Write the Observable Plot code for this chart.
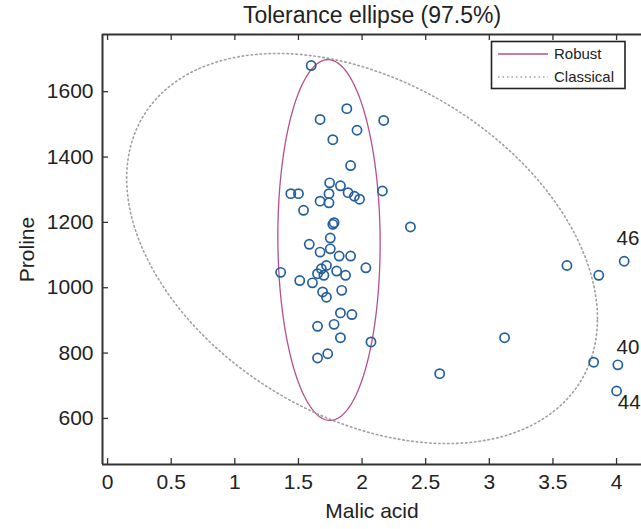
<!DOCTYPE html>
<html><head><meta charset="utf-8">
<script src="https://cdn.jsdelivr.net/npm/d3@7"></script>
<script src="https://cdn.jsdelivr.net/npm/@observablehq/plot@0.6"></script>
<style>
body{margin:0;background:#fff;overflow:hidden}
#chart svg{display:block}
</style>
</head><body><div id="chart"></div>
<script>
const malicAcid = [1.60,1.88,1.67,2.17,1.96,1.77,1.91,1.745,1.83,1.44,1.50,1.89,1.94,1.98,1.74,1.67,1.74,2.16,1.54,1.78,1.77,1.75,1.585,1.67,1.75,1.82,1.91,2.03,1.36,1.72,1.68,1.65,1.70,1.80,1.87,1.51,1.61,1.69,1.72,1.84,1.83,1.92,1.65,1.78,1.83,2.07,1.65,1.73,2.38,3.61,3.86,4.06,3.12,2.61,3.82,4.01,4.00];
const proline = [1680,1548,1515,1512,1482,1453,1374,1321,1312,1288,1288,1291,1280,1271,1288,1265,1260,1296,1237,1199,1194,1152,1133,1109,1119,1097,1097,1061,1047,1068,1058,1043,1038,1051,1038,1022,1015,987,971,992,923,918,882,888,847,834,785,798,1186,1068,1038,1081,847,737,772,764,684];

const xTicks = [0,0.5,1,1.5,2,2.5,3,3.5,4];
const yTicks = [600,800,1000,1200,1400,1600];

const ellipseNames = ["Robust","Classical"];
const ellipseCenterX = [1.74, 2.0];
const ellipseCenterY = [1146, 1120];
const ellipseHalfX = [0.402, 1.85];
const ellipseHalfY = [552, 597];
const ellipseCorr = [-0.02, -0.36];
const ellipseColors = ["#b5508f", "#a0a0a0"];
const ellipseDash = [null, "1.5,3"];

const outlierLabels = ["46","40","44"];
const labelX = [4.0, 4.0, 4.01];
const labelY = [1151, 816, 649];

const titleText = "Tolerance ellipse (97.5%)";
const xLabel = "Malic acid";
const yLabel = "Proline";

const xDomain = [-0.04, 4.196];
const yDomain = [459, 1775];

const points = malicAcid.map((x, i) => ({x, y: proline[i]}));
const labels = outlierLabels.map((t, i) => ({t, x: labelX[i], y: labelY[i]}));

// ellipse outlines from their centre, half-extents and correlation
const ellipsePts = [];
ellipseNames.forEach((name, i) => {
  const n = 240, r = ellipseCorr[i], s = Math.sqrt(1 - r*r);
  for (let k = 0; k <= n; k++) {
    const t = 2*Math.PI*k/n;
    ellipsePts.push({name,
      x: ellipseCenterX[i] + ellipseHalfX[i]*Math.cos(t),
      y: ellipseCenterY[i] + ellipseHalfY[i]*(r*Math.cos(t) + s*Math.sin(t))});
  }
});

const W = 641, H = 529, mL = 102, mT = 34, mB = 65, mR = 0;
const fh = H - mT - mB, fw = W - mL - mR;
const font = "Liberation Sans, Arial, Helvetica, sans-serif";
const ink = "#222";

const marks = [];
ellipseNames.forEach((name, i) => {
  marks.push(Plot.line(ellipsePts.filter(d => d.name === name), {
    x: "x", y: "y", stroke: ellipseColors[i], strokeWidth: i === 0 ? 1.3 : 1.6,
    strokeDasharray: ellipseDash[i] ?? undefined
  }));
});
marks.push(
  Plot.dot(points, {x: "x", y: "y", r: 4.6, stroke: "#245f9e", strokeWidth: 1.7, fill: "none"}),
  Plot.text(labels, {x: "x", y: "y", text: "t", textAnchor: "start", fontSize: 20.5, fill: ink}),
  // frame lines
  Plot.ruleX([xDomain[0]], {stroke: "#333", strokeWidth: 2}),
  Plot.ruleY([yDomain[0]], {stroke: "#333", strokeWidth: 2}),
  Plot.ruleY([yDomain[1]], {stroke: "#333", strokeWidth: 2}),
  // inward ticks
  Plot.tickX(xTicks, {x: d => d, insetTop: fh - 6, stroke: "#333", strokeWidth: 1.3}),
  Plot.tickX(xTicks, {x: d => d, insetBottom: fh - 6, stroke: "#333", strokeWidth: 1.3}),
  Plot.tickY(yTicks, {y: d => d, insetRight: fw - 6, stroke: "#333", strokeWidth: 1.3}),
  // tick labels
  Plot.axisX(xTicks, {anchor: "bottom", tickSize: 0, tickPadding: 10, fontSize: 21, label: null, tickFormat: d => String(d), fill: ink}),
  Plot.axisY(yTicks, {anchor: "left", tickSize: 0, tickPadding: 9, fontSize: 21, label: null, tickFormat: d => String(d), fill: ink}),
  // titles
  Plot.text([titleText], {frameAnchor: "top", lineAnchor: "middle", dy: -19, fontSize: 23, fill: ink}),
  Plot.text([xLabel], {frameAnchor: "bottom", lineAnchor: "middle", dy: 47, fontSize: 21, fill: ink}),
  Plot.text([yLabel], {frameAnchor: "left", textAnchor: "middle", lineAnchor: "middle", dx: -75, rotate: -90, fontSize: 21, fill: ink})
);

const chart = Plot.plot({
  width: W, height: H,
  marginLeft: mL, marginTop: mT, marginBottom: mB, marginRight: mR,
  style: {fontFamily: font, background: "#fff", overflow: "visible"},
  x: {domain: xDomain},
  y: {domain: yDomain},
  marks
});

// legend box
const svg = d3.select(chart);
const lg = svg.append("g").attr("font-family", font).attr("text-anchor", "start");
lg.append("rect").attr("x", 491.5).attr("y", 41.5).attr("width", 133.5).attr("height", 47)
  .attr("fill", "#fff").attr("stroke", "#222").attr("stroke-width", 1.6);
ellipseNames.forEach((name, i) => {
  const yy = 54 + i*23;
  lg.append("line").attr("x1", 498).attr("x2", 548).attr("y1", yy).attr("y2", yy)
    .attr("stroke", ellipseColors[i]).attr("stroke-width", i === 0 ? 1.3 : 1.6)
    .attr("stroke-dasharray", ellipseDash[i]);
  lg.append("text").attr("x", 554).attr("y", yy).attr("dy", "0.35em")
    .attr("text-anchor", "start").attr("font-size", 15).attr("fill", ink).text(name);
});

document.getElementById("chart").appendChild(chart);
</script>
</body></html>
